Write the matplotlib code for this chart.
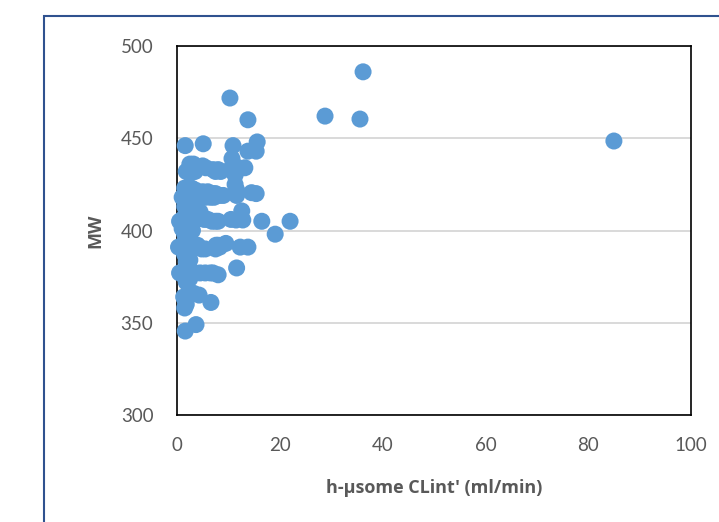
import matplotlib
matplotlib.use("Agg")
import matplotlib.pyplot as plt
from matplotlib.patches import Rectangle

# h-µsome CLint' (ml/min) values
clint = [
    85.0, 36.2, 28.8, 35.6, 10.3, 13.8, 15.6, 15.4, 13.8, 10.9, 5.1, 1.6,
    22.0, 16.5, 19.1, 13.8, 12.3, 11.6, 6.6, 3.7, 1.6, 15.4, 14.5, 12.6,
    12.8, 11.5, 10.5, 13.2, 12.0, 11.3, 11.3, 11.6, 11.6, 10.7, 10.3, 9.5, 7.6,
    2.5, 3.2, 4.0, 5.0, 5.6,
    1.8, 2.5, 3.5, 7.0, 8.0, 8.5, 7.5,
    1.5, 2.2, 2.8, 3.5, 4.0, 5.0, 6.0, 7.0, 7.5, 8.3, 9.0,
    1.0, 1.5, 2.0, 2.7, 3.2, 4.5, 5.5, 6.5, 7.2,
    1.5, 2.0, 2.5, 3.5, 4.5,
    0.5, 1.0, 1.5, 2.0, 3.0, 3.8, 4.5, 5.3, 6.0, 6.8, 7.5, 8.0,
    1.0, 1.5, 2.0, 3.0, 2.5,
    0.3, 1.0, 1.8, 2.5, 3.3, 4.0, 4.8, 5.5, 7.5, 8.3, 8.0,
    1.5, 2.0, 2.5, 1.8,
    0.5, 1.2, 2.0, 2.8, 3.5, 4.5, 5.5, 6.5, 7.0, 8.0, 1.5, 2.5,
    1.8, 2.2,
    1.3, 2.2, 3.2, 4.3, 1.6,
    1.8, 1.5,
]
# MW values
mw = [
    448.5, 486, 462, 460.4, 471.8, 460, 448, 443, 443, 446, 447, 446,
    405, 405, 398, 391, 391, 379.7, 361, 349, 345.5, 420, 420.5, 410.6,
    405.7, 405.7, 406, 434, 434, 430, 425, 422, 419, 439, 433, 393, 392,
    436, 436, 434, 435, 434,
    432, 431, 432, 433, 433, 432, 432,
    423, 423, 423, 422, 421, 421, 421, 420, 420, 419, 419,
    418, 418, 417, 417, 418, 418, 418, 418, 418,
    413, 411, 410, 410, 410,
    405, 406, 407, 407, 406, 406, 407, 406, 406, 405, 405, 405,
    401, 398, 397, 400, 402,
    391, 392, 392, 392, 391, 392, 390, 390, 390, 391, 392,
    387, 385, 384, 383,
    377, 377, 378, 377, 377, 377, 377, 377, 377, 376, 375, 374,
    372, 374,
    364, 365, 366, 365, 362,
    360, 358,
]

x_ticks = [0, 20, 40, 60, 80, 100]
y_ticks = [300, 350, 400, 450, 500]

plt.rcParams['font.family'] = ['Lato', 'DejaVu Sans']

fig = plt.figure(figsize=(7.19, 5.22), dpi=100)
ax = fig.add_axes([177/719, 1-415/522, (691-177)/719, (415-46)/522])

ax.scatter(clint, mw, s=150, color='#5b9bd5', edgecolors='none', zorder=3, clip_on=False)

ax.set_xlim(0, 100)
ax.set_ylim(300, 500)
ax.set_xticks(x_ticks)
ax.set_yticks(y_ticks)
ax.yaxis.grid(True, color='#d9d9d9', linewidth=1.4, zorder=0)
ax.set_axisbelow(True)
ax.tick_params(length=0, labelsize=13.5, labelcolor='#595959')
ax.tick_params(axis='y', pad=17)
ax.tick_params(axis='x', pad=16)
for s in ax.spines.values():
    s.set_color('black')
    s.set_linewidth(1.2)

ax.set_xlabel("h-µsome CLint' (ml/min)", fontsize=13, fontweight='bold', color='#595959',
              labelpad=18, family=['Open Sans', 'DejaVu Sans'])
ax.set_ylabel("MW", fontsize=13, fontweight='bold', color='#595959', labelpad=12,
              family=['Open Sans', 'DejaVu Sans'])

fig.patches.append(Rectangle((44/719, -0.05), 1.0, 1-16/522+0.05, transform=fig.transFigure,
                             fill=False, edgecolor='#2f528f', linewidth=1.5))

fig.savefig('out.png', dpi=100)
